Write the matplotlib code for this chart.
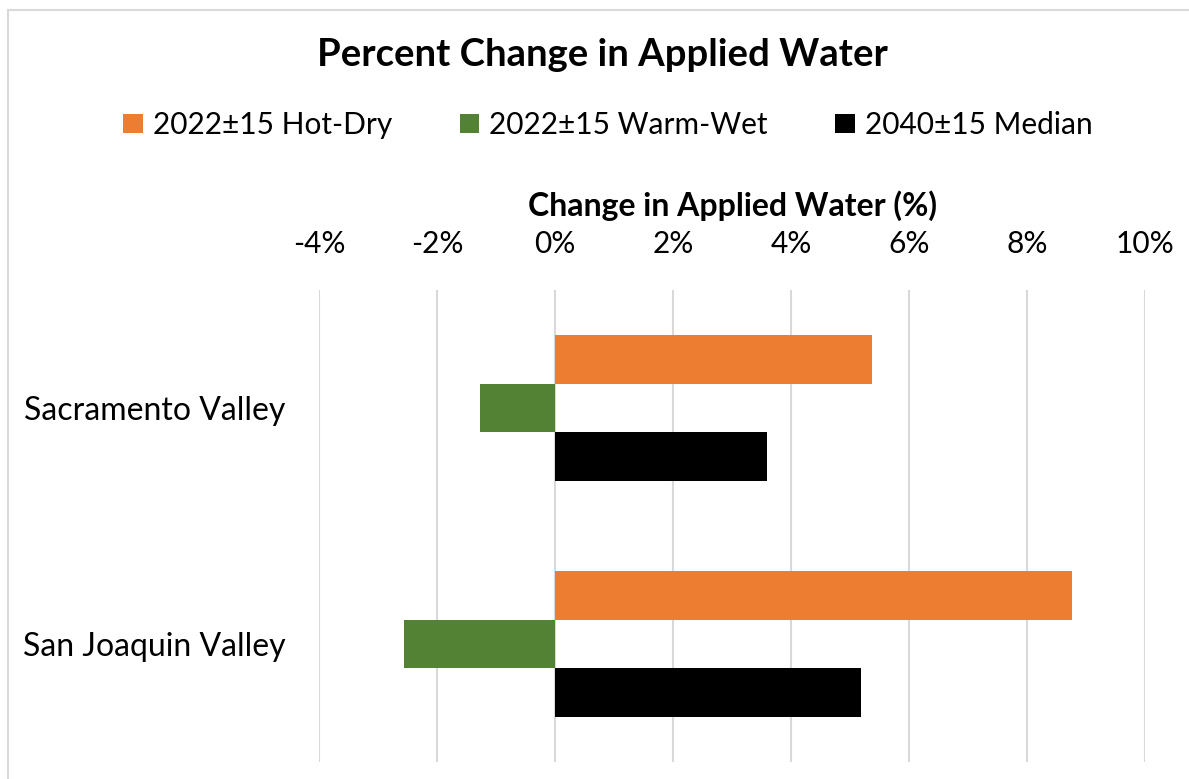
import numpy as np
import matplotlib.pyplot as plt
from matplotlib.patches import Rectangle

# data (percent change)
regions = ['San Joaquin Valley', 'Sacramento Valley']
series = ['2022\u00b115 Hot-Dry', '2022\u00b115 Warm-Wet', '2040\u00b115 Median']
hot_dry = [8.76, 5.37]
warm_wet = [-2.56, -1.27]
median_2040 = [5.19, 3.59]
xticks = [-4, -2, 0, 2, 4, 6, 8, 10]

colors = ['#ED7D31', '#548235', '#000000']

plt.rcParams['font.family'] = ['Lato', 'DejaVu Sans']

fig = plt.figure(figsize=(11.89, 7.79), dpi=100)
ax = fig.add_axes([319/1189, 1 - 762/779, 826/1189, 472/779])

y = np.arange(len(regions))
h = 0.205
for vals, off, col, name in zip([hot_dry, warm_wet, median_2040], [h, 0, -h], colors, series):
    ax.barh(y + off, vals, height=h, color=col, label=name, zorder=3)

ax.set_xlim(-4, 10)
ax.set_ylim(-0.5, 1.5)
ax.set_xticks(xticks)
ax.set_xticklabels(['%d%%' % t for t in xticks], fontsize=21.5)
ax.set_yticks(y)
ax.set_yticklabels(regions, fontsize=23)
ax.xaxis.tick_top()
ax.xaxis.set_label_position('top')
ax.tick_params(axis='x', length=0, pad=23)
ax.tick_params(axis='y', length=0, pad=24)
ax.set_xlabel('Change in Applied Water (%)', fontsize=23, fontweight='bold', labelpad=10)
ax.grid(axis='x', color='#d9d9d9', linewidth=1.5, zorder=0)
for s in ax.spines.values():
    s.set_visible(False)

fig.text(602/1189, 1 - 55/779, 'Percent Change in Applied Water', fontsize=27.5,
         fontweight='bold', ha='center', va='center')

fig.legend(loc='center', bbox_to_anchor=(608/1189, 1 - 125/779), ncol=3, frameon=False,
           fontsize=21.5, handlelength=0.65, handleheight=0.65, handletextpad=0.35,
           columnspacing=2.25)

# light chart border (cropped at right/bottom in the reference)
fig.patches.append(Rectangle((8/1189, -0.1), 1.2, 1.1 - 10/779, transform=fig.transFigure,
                             fill=False, edgecolor='#d9d9d9', linewidth=1.5))

fig.savefig('out.png', dpi=100)
